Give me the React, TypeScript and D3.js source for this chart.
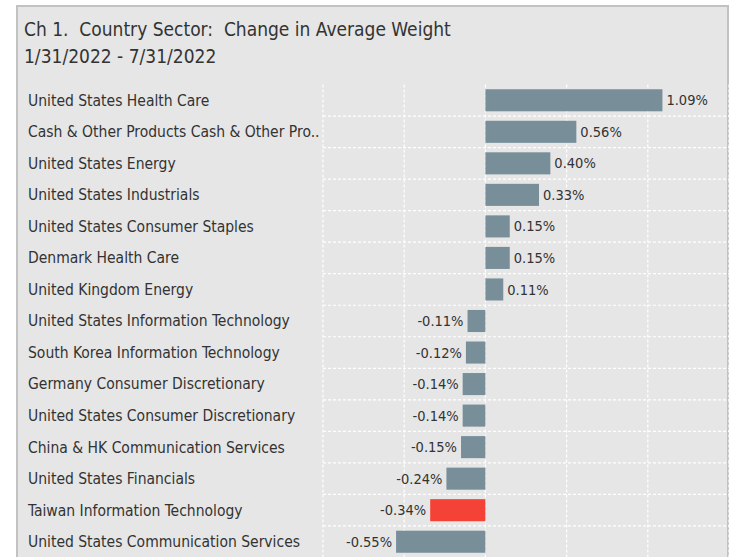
import React, { useEffect, useRef } from 'react';
import * as d3 from 'd3';

const categories = [
  'United States Health Care',
  'Cash & Other Products Cash & Other Pro..',
  'United States Energy',
  'United States Industrials',
  'United States Consumer Staples',
  'Denmark Health Care',
  'United Kingdom Energy',
  'United States Information Technology',
  'South Korea Information Technology',
  'Germany Consumer Discretionary',
  'United States Consumer Discretionary',
  'China & HK Communication Services',
  'United States Financials',
  'Taiwan Information Technology',
  'United States Communication Services',
];
const changes = [1.09, 0.56, 0.4, 0.33, 0.15, 0.15, 0.11, -0.11, -0.12, -0.14, -0.14, -0.15, -0.24, -0.34, -0.55];
const highlighted = ['Taiwan Information Technology'];
const gridTicks = [-1, -0.5, 0, 0.5, 1, 1.5];

const W = 730, H = 557;
const FONT = '"Liberation Sans Narrow", "DejaVu Sans Condensed", "Roboto", sans-serif';

export default function App() {
  const ref = useRef<SVGSVGElement>(null);

  useEffect(() => {
    const svg = d3.select(ref.current);
    svg.selectAll('*').remove();

    // panel
    svg.append('rect').attr('x', 0).attr('y', 0).attr('width', W).attr('height', H).attr('fill', '#fff');
    svg.append('rect')
      .attr('x', 17).attr('y', 6).attr('width', 711).attr('height', H)
      .attr('fill', '#e6e6e6').attr('stroke', '#c2c2c2').attr('stroke-width', 2);

    svg.append('text').attr('x', 24).attr('y', 36)
      .attr('font-family', FONT).attr('font-size', 19).attr('fill', '#333')
      .style('white-space', 'pre')
      .text('Ch 1.  Country Sector:  Change in Average Weight');
    svg.append('text').attr('x', 24).attr('y', 63)
      .attr('font-family', FONT).attr('font-size', 19).attr('fill', '#333')
      .text('1/31/2022 - 7/31/2022');

    const x = d3.scaleLinear().domain([-1, 1.5]).range([323, 729]);
    const y = d3.scaleBand<string>().domain(categories).range([84.5, 557.5]).paddingInner(0.3).paddingOuter(0.15);
    const step = y.step();
    const top = 84.5;

    const grid = svg.append('g').attr('stroke', '#fff').attr('stroke-width', 1.2).attr('stroke-dasharray', '3,2');
    grid.selectAll('line.v').data(gridTicks).enter().append('line')
      .attr('x1', d => x(d)).attr('x2', d => x(d))
      .attr('y1', top).attr('y2', H);
    grid.selectAll('line.h').data(categories.slice(1)).enter().append('line')
      .attr('x1', x(-1)).attr('x2', x(1.5))
      .attr('y1', (_, i) => top + (i + 1) * step).attr('y2', (_, i) => top + (i + 1) * step);

    const data = categories.map((c, i) => ({ c, v: changes[i] }));

    svg.append('g').selectAll('rect').data(data).enter().append('rect')
      .attr('x', d => x(Math.min(0, d.v)))
      .attr('width', d => Math.abs(x(d.v) - x(0)))
      .attr('y', d => y(d.c)!)
      .attr('height', y.bandwidth())
      .attr('fill', d => highlighted.includes(d.c) ? '#f44336' : '#788f9a');

    svg.append('g').selectAll('text').data(data).enter().append('text')
      .attr('x', 28)
      .attr('y', d => y(d.c)! + y.bandwidth() / 2)
      .attr('dy', '0.35em')
      .attr('font-family', FONT).attr('font-size', 15.5).attr('fill', '#333')
      .text(d => d.c);

    svg.append('g').selectAll('text').data(data).enter().append('text')
      .attr('x', d => d.v >= 0 ? x(d.v) + 4 : x(d.v) - 4)
      .attr('text-anchor', d => d.v >= 0 ? 'start' : 'end')
      .attr('y', d => y(d.c)! + y.bandwidth() / 2)
      .attr('dy', '0.35em')
      .attr('font-family', FONT).attr('font-size', 14.5).attr('fill', '#333')
      .text(d => d.v.toFixed(2) + '%');
  }, []);

  return <svg ref={ref} width={W} height={H} style={{ position: 'absolute', left: 0, top: 0 }} />;
}
